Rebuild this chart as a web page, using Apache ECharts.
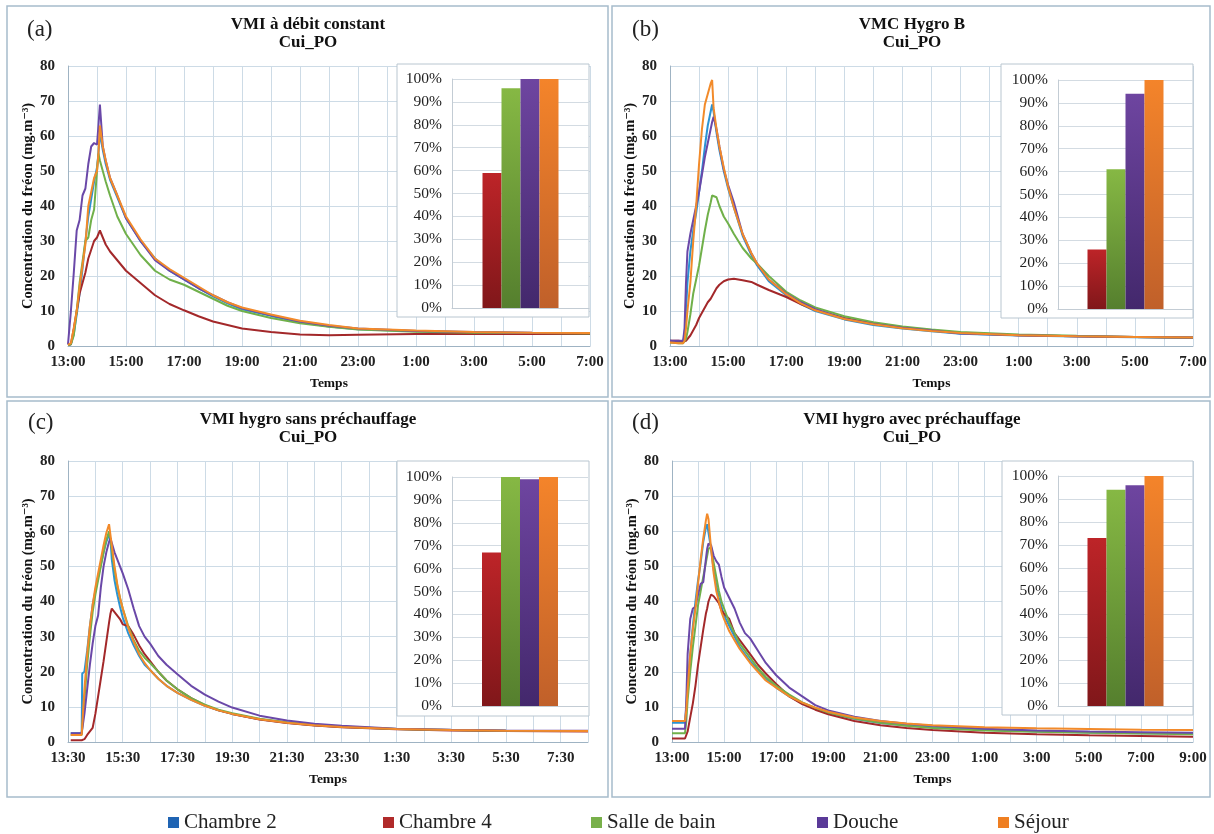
<!DOCTYPE html>
<html><head><meta charset="utf-8">
<script src="https://cdn.jsdelivr.net/npm/echarts@6/dist/echarts.min.js"></script>
<style>html,body{margin:0;padding:0;background:#fff}#c{width:1214px;height:834px}</style>
</head><body><div id="c"></div>
<script>
// ---------- DATA ----------
const SERIES_NAMES = ['Chambre 2', 'Chambre 4', 'Salle de bain', 'Douche', 'Séjour'];
const BAR_NAMES = ['Chambre 4', 'Salle de bain', 'Douche', 'Séjour'];

// Panel (a): hours since 13:00
const A_T   = [0, 0.1, 0.2, 0.3, 0.4, 0.5, 0.6, 0.7, 0.8, 0.9, 1.0, 1.05, 1.1, 1.2, 1.3, 1.45, 1.7, 2.0, 2.5, 3.0, 3.5, 4.0, 4.5, 5.0, 5.5, 6.0, 7.0, 8.0, 9.0, 10.0, 12.0, 14.0, 16.0, 18.0];
const A_CH2 = [0.3, 0.5, 3.5, 9, 15, 22, 30, 37, 42, 47, 51, 55, 61, 56, 52, 47.5, 42.5, 36.5, 30, 25, 21.5, 19, 16.5, 14.2, 12.2, 10.5, 8.6, 6.8, 5.6, 4.8, 4.2, 3.9, 3.7, 3.6];
const A_CH4 = [0.3, 0.5, 5, 10, 15, 18, 21, 25, 27.5, 30, 31, 31.5, 33, 31, 29, 27, 24.5, 21.5, 18, 14.5, 12, 10.2, 8.5, 7, 6, 5, 4, 3.3, 3.1, 3.2, 3.4, 3.4, 3.4, 3.4];
const A_SDB = [0.3, 0.5, 3, 10, 18, 24, 30, 31, 36, 39, 50, 55, 53, 50, 47, 43, 37, 32, 26, 21.5, 19, 17.5, 15.5, 13.5, 11.5, 10, 8, 6.5, 5.5, 4.7, 4.1, 3.8, 3.7, 3.6];
const A_DOU = [0.5, 10, 21, 33, 36, 43, 45, 52, 57, 58, 57.5, 63, 69, 57, 53, 48, 43, 36.5, 30, 24.5, 21.5, 19, 16.5, 14.5, 12.5, 10.8, 8.8, 7, 5.8, 5, 4.3, 4, 3.8, 3.7];
const A_SEJ = [0.3, 0.8, 5, 10, 17, 23, 29, 40, 44, 48, 50, 55, 63, 57, 53, 48, 43, 37, 30.5, 25, 22, 19.5, 17, 14.5, 12.5, 11, 9, 7.2, 6, 5, 4.4, 4, 3.8, 3.7];

// Panel (b): hours since 13:00
const B_T   = [0, 0.3, 0.45, 0.5, 0.55, 0.6, 0.7, 0.8, 0.9, 1.0, 1.1, 1.2, 1.3, 1.4, 1.45, 1.5, 1.6, 1.7, 1.85, 2.0, 2.2, 2.5, 2.8, 3.0, 3.4, 4.0, 4.5, 5, 6, 7, 8, 9, 10, 12, 14, 16, 18];
const B_CH2 = [1.5, 1.2, 1.2, 3, 10, 18, 27, 33, 38, 44, 50, 57, 63, 67, 69, 67, 61, 56, 50, 45, 39.5, 31.5, 26, 23, 18.5, 14.5, 12, 10, 7.6, 6, 5, 4.2, 3.5, 3, 2.7, 2.5, 2.3];
const B_CH4 = [1.5, 1.5, 1.2, 1.2, 1.5, 2, 3, 4.5, 6, 8, 9.5, 11, 12.5, 13.5, 14, 15, 16.5, 17.5, 18.5, 19, 19.2, 18.8, 18.3, 17.5, 16, 14, 12, 10.3, 8, 6.5, 5.3, 4.5, 3.8, 3.1, 2.8, 2.6, 2.4];
const B_SDB = [1, 0.8, 0.8, 1, 2, 4, 9, 15, 19, 23, 28, 33, 37.5, 41, 43, 43, 42.5, 40, 37, 35, 32, 28, 25, 23.5, 20, 15.5, 13, 11, 8.5, 6.8, 5.6, 4.7, 4, 3.3, 2.9, 2.6, 2.4];
const B_DOU = [1.5, 1.5, 1.5, 5, 18, 27, 32, 36, 40, 44, 49, 54, 58, 62, 64, 65.5, 62, 57, 50.5, 46, 41, 32, 26.5, 23.5, 19, 15, 12.5, 10.5, 7.8, 6.3, 5.2, 4.4, 3.6, 3.1, 2.8, 2.6, 2.4];
const B_SEJ = [1, 0.8, 0.8, 1.5, 5, 10, 18, 30, 40, 52, 62, 69, 72, 75, 76, 68, 62, 57, 51, 45.5, 39.5, 32, 26.5, 23.5, 19, 14.8, 12.2, 10.2, 7.7, 6.2, 5.1, 4.3, 3.7, 3.1, 2.8, 2.6, 2.4];

// Panel (c): hours since 13:30
const C_T   = [0.1, 0.5, 0.52, 0.6, 0.7, 0.8, 0.9, 1.0, 1.1, 1.2, 1.3, 1.4, 1.5, 1.55, 1.6, 1.7, 1.8, 1.9, 2.0, 2.2, 2.4, 2.6, 2.8, 3.0, 3.3, 3.6, 4.0, 4.5, 5, 5.5, 6, 7, 8, 9, 10, 12, 14, 16, 19];
const C_CH2 = [2.5, 2.5, 19.5, 20, 26, 33, 39, 43, 47, 50.5, 54, 57, 59, 58, 52, 46, 42, 38.5, 35.5, 31, 27.5, 24.5, 22, 20.5, 18, 16, 14, 12, 10.3, 9, 8, 6.5, 5.5, 4.8, 4.3, 3.7, 3.4, 3.2, 3.1];
const C_CH4 = [0.5, 0.5, 0.5, 0.8, 2, 3, 4, 8, 13, 18, 23, 28.5, 34, 36.5, 38, 37, 36, 35, 33.5, 33, 30.5, 27.5, 25, 23, 20, 17.5, 15, 12.5, 10.5, 9, 8, 6.4, 5.4, 4.7, 4.2, 3.6, 3.3, 3.1, 3.0];
const C_SDB = [2, 2, 2.5, 12, 22, 30, 37, 42, 46, 50, 54, 57.5, 60, 59.5, 55, 49, 44.5, 41, 38, 33, 29, 26, 24, 22.5, 20, 17.5, 15, 12.5, 10.6, 9.2, 8.2, 6.6, 5.6, 4.9, 4.4, 3.7, 3.4, 3.2, 3.1];
const C_DOU = [2.5, 2.5, 2.5, 8, 15, 22, 28, 33, 36, 44, 50, 54, 57, 58, 57.5, 54, 52, 50, 48, 43.5, 38, 33, 30, 28, 24.5, 22, 19.3, 16, 13.5, 11.5, 9.8, 7.5, 6.1, 5.2, 4.6, 3.8, 3.5, 3.3, 3.2];
const C_SEJ = [2, 2, 2.5, 15, 25, 33, 39, 44, 48, 52, 56, 59.5, 62, 61.5, 56, 50, 45, 41, 38, 32.5, 28.5, 25, 22.5, 20.5, 18, 16, 14, 12, 10.3, 9, 8, 6.5, 5.5, 4.8, 4.3, 3.7, 3.4, 3.2, 3.1];

// Panel (d): hours since 13:00
const D_T   = [0, 0.5, 0.55, 0.6, 0.7, 0.8, 0.9, 1.0, 1.1, 1.2, 1.3, 1.35, 1.4, 1.5, 1.6, 1.7, 1.8, 1.9, 2.0, 2.2, 2.4, 2.6, 2.8, 3.0, 3.3, 3.6, 4.0, 4.5, 5, 5.5, 6, 7, 8, 9, 10, 12, 14, 16, 18, 20];
const D_CH2 = [5.5, 5.5, 10, 17, 25, 33, 40, 46, 51, 57, 61, 62, 61.5, 55, 49, 44.5, 41, 38.5, 36, 33, 30, 27, 25, 23, 20.5, 18, 15.5, 13, 11, 9.5, 8.3, 6.6, 5.4, 4.7, 4.2, 3.5, 3, 2.7, 2.5, 2.4];
const D_CH4 = [1, 1, 1.5, 3, 7, 11, 16, 22, 27, 32, 36.5, 38, 40, 42, 41.5, 40.5, 39.5, 37.5, 36.5, 35, 31, 29, 27, 25, 22, 19.5, 16.5, 13, 10.8, 9.2, 7.9, 6, 4.8, 4, 3.4, 2.6, 2.2, 1.9, 1.7, 1.5];
const D_SDB = [2.5, 2.5, 6, 12, 20, 27, 33, 39, 43, 47, 51, 53, 55, 55.5, 51, 47, 43, 40, 38, 34, 31, 28, 26, 24, 21, 18.5, 16, 13.5, 11.3, 9.7, 8.4, 6.7, 5.5, 4.6, 4, 3.3, 2.9, 2.6, 2.4, 2.2];
const D_DOU = [3.8, 3.8, 12, 25, 35, 38, 38.5, 42, 45, 45.5, 52, 55, 56.5, 56, 53, 51.5, 50.5, 47, 44, 41, 38, 34, 31, 29.5, 26, 22.5, 19, 15.5, 13, 10.5, 9, 7.2, 6, 5.2, 4.6, 3.8, 3.3, 3.0, 2.8, 2.6];
const D_SEJ = [6, 6, 9, 15, 25, 32, 38, 45, 52, 58, 63, 65, 63.5, 55, 48, 43, 40, 37, 35, 31.5, 29, 26.5, 24.5, 22.5, 20, 17.5, 15.5, 13, 11.2, 9.8, 8.6, 7, 6, 5.3, 4.8, 4.2, 3.9, 3.7, 3.5, 3.4];

// Inset bars (%): Chambre 4, Salle de bain, Douche, Séjour
const BAR_A = [59, 96, 100, 100];
const BAR_B = [26, 61, 94, 100];
const BAR_C = [67, 100, 99, 100];
const BAR_D = [73, 94, 96, 100];

const TITLES = [['VMI à débit constant', 'Cui_PO'], ['VMC Hygro B', 'Cui_PO'], ['VMI hygro sans préchauffage', 'Cui_PO'], ['VMI hygro avec préchauffage', 'Cui_PO']];
const LABELS = ['(a)', '(b)', '(c)', '(d)'];
const Y_NAME = 'Concentration du fréon (mg.m⁻³)';
const X_NAME = 'Temps';

// ---------- STYLE / LAYOUT ----------
const FONT = '"Liberation Serif", "DejaVu Serif", serif';
const LINE_COLORS = ['#2b93d3', '#a3282a', '#70b04a', '#6a48a8', '#f28a2a'];
const LEGEND_COLORS = ['#1f64b3', '#b02a2a', '#78b04a', '#5a3a98', '#ef7f22'];
const BAR_TOP = ['#bd2428', '#86b844', '#6e45a0', '#f4842a'];
const BAR_BOT = ['#80171a', '#557f2e', '#43286c', '#c0602a'];

const panels = [
  {t: A_T, v: [A_CH2, A_CH4, A_SDB, A_DOU, A_SEJ], bars: BAR_A, start: 13, max: 18,
   grid: {left: 68, top: 66, width: 522, height: 280}, inset: {left: 452, top: 79, width: 137, height: 229},
   box: [397, 64, 192, 253], frame: [7, 6, 601, 391], cx: 308, ty: 25, lx: 27, ly: 30},
  {t: B_T, v: [B_CH2, B_CH4, B_SDB, B_DOU, B_SEJ], bars: BAR_B, start: 13, max: 18,
   grid: {left: 670, top: 66, width: 523, height: 280}, inset: {left: 1058, top: 80, width: 135, height: 229},
   box: [1001, 64, 192, 254], frame: [612, 6, 598, 391], cx: 912, ty: 25, lx: 632, ly: 30},
  {t: C_T, v: [C_CH2, C_CH4, C_SDB, C_DOU, C_SEJ], bars: BAR_C, start: 13.5, max: 19,
   grid: {left: 68, top: 461, width: 520, height: 281}, inset: {left: 452, top: 477, width: 136, height: 229},
   box: [397, 461, 192, 255], frame: [7, 401, 601, 396], cx: 308, ty: 420, lx: 28, ly: 423},
  {t: D_T, v: [D_CH2, D_CH4, D_SDB, D_DOU, D_SEJ], bars: BAR_D, start: 13, max: 20,
   grid: {left: 672, top: 461, width: 521, height: 281}, inset: {left: 1058, top: 476, width: 135, height: 230},
   box: [1002, 461, 191, 254], frame: [612, 401, 598, 396], cx: 912, ty: 420, lx: 632, ly: 423}
];

function timeFmt(start) {
  return function (v) {
    if (Math.round(v) % 2 !== 0) return '';
    const h = (start + v) % 24;
    const hh = Math.floor(h);
    const mm = Math.round((h - hh) * 60);
    return hh + ':' + (mm < 10 ? '0' : '') + mm;
  };
}

const grids = [], xAxes = [], yAxes = [], series = [], graphics = [];

panels.forEach((p, i) => {
  const gMain = grids.length;
  grids.push(Object.assign({containLabel: false}, p.grid));
  const gIn = grids.length;
  grids.push(Object.assign({containLabel: false}, p.inset));

  xAxes.push({
    gridIndex: gMain, type: 'value', min: 0, max: p.max, interval: 1,
    axisLine: {show: true, onZero: false, lineStyle: {color: '#9fb3c3', width: 1}},
    axisTick: {show: false},
    splitLine: {show: true, lineStyle: {color: '#cddbe6', width: 1}},
    axisLabel: {formatter: timeFmt(p.start), fontFamily: FONT, fontSize: 15, fontWeight: 'bold', color: '#222', margin: 9, showMinLabel: true, showMaxLabel: true},
    name: X_NAME, nameLocation: 'middle', nameGap: 31,
    nameTextStyle: {fontFamily: FONT, fontSize: 13.5, fontWeight: 'bold', color: '#111'}
  });
  yAxes.push({
    gridIndex: gMain, type: 'value', min: 0, max: 80, interval: 10,
    axisLine: {show: true, lineStyle: {color: '#9fb3c3', width: 1}},
    axisTick: {show: false},
    splitLine: {show: true, lineStyle: {color: '#cddbe6', width: 1}},
    axisLabel: {fontFamily: FONT, fontSize: 15, fontWeight: 'bold', color: '#222', margin: 13},
    name: Y_NAME, nameLocation: 'middle', nameGap: 32,
    nameTextStyle: {fontFamily: FONT, fontSize: 14.5, fontWeight: 'bold', color: '#111'}
  });
  const xMain = xAxes.length - 1, yMain = yAxes.length - 1;

  xAxes.push({
    gridIndex: gIn, type: 'category', data: [''], z: 11,
    axisLine: {show: true, lineStyle: {color: '#c3ccd4'}},
    axisTick: {show: false}, axisLabel: {show: false}, splitLine: {show: false}
  });
  yAxes.push({
    gridIndex: gIn, type: 'value', min: 0, max: 100, interval: 10, z: 11,
    axisLine: {show: true, lineStyle: {color: '#c3ccd4'}},
    axisTick: {show: false},
    splitLine: {show: true, lineStyle: {color: '#d3dbe2'}},
    axisLabel: {formatter: '{value}%', fontFamily: FONT, fontSize: 15.5, color: '#222', margin: 10}
  });
  const xIn = xAxes.length - 1, yIn = yAxes.length - 1;

  SERIES_NAMES.forEach((name, k) => {
    series.push({
      type: 'line', name: name, xAxisIndex: xMain, yAxisIndex: yMain,
      data: p.t.map((x, j) => [x, p.v[k][j]]),
      showSymbol: false, symbol: 'none', z: 2,
      lineStyle: {width: 2, color: LINE_COLORS[k]}, itemStyle: {color: LINE_COLORS[k]}
    });
  });
  BAR_NAMES.forEach((name, k) => {
    series.push({
      type: 'bar', name: name, xAxisIndex: xIn, yAxisIndex: yIn, z: 12,
      data: [p.bars[k]], barWidth: 19, barGap: '0%',
      itemStyle: {color: new echarts.graphic.LinearGradient(0, 0, 0, 1, [
        {offset: 0, color: BAR_TOP[k]}, {offset: 1, color: BAR_BOT[k]}])}
    });
  });

  // panel frame
  graphics.push({type: 'rect', z: 0, shape: {x: p.frame[0], y: p.frame[1], width: p.frame[2], height: p.frame[3]},
    style: {fill: 'none', stroke: '#a7bccb', lineWidth: 1.5}});
  // inset box
  graphics.push({type: 'rect', z: 10, shape: {x: p.box[0], y: p.box[1], width: p.box[2], height: p.box[3]},
    style: {fill: '#ffffff', stroke: '#b9c6d0', lineWidth: 1}});
  // titles
  graphics.push({type: 'text', z: 20, x: p.cx, y: p.ty,
    style: {text: TITLES[i][0], font: 'bold 17px ' + FONT, fill: '#111', align: 'center', verticalAlign: 'middle'}});
  graphics.push({type: 'text', z: 20, x: p.cx, y: p.ty + 18,
    style: {text: TITLES[i][1], font: 'bold 17px ' + FONT, fill: '#111', align: 'center', verticalAlign: 'middle'}});
  graphics.push({type: 'text', z: 20, x: p.lx, y: p.ly,
    style: {text: LABELS[i], font: '23px ' + FONT, fill: '#222', align: 'left', verticalAlign: 'middle'}});
});

const LEGEND_LEFT = [168, 383, 591, 817, 998];
const legends = SERIES_NAMES.map((name, i) => ({
  left: LEGEND_LEFT[i], top: 812, padding: 0, icon: 'rect', itemWidth: 11, itemHeight: 11,
  selectedMode: false,
  data: [{name: name, itemStyle: {color: LEGEND_COLORS[i]}}],
  textStyle: {fontFamily: FONT, fontSize: 21, color: '#222'}
}));

const chart = echarts.init(document.getElementById('c'), null, {renderer: 'canvas'});
chart.setOption({
  animation: false,
  backgroundColor: '#ffffff',
  grid: grids, xAxis: xAxes, yAxis: yAxes, series: series,
  legend: legends, graphic: graphics
});
</script>
</body></html>
